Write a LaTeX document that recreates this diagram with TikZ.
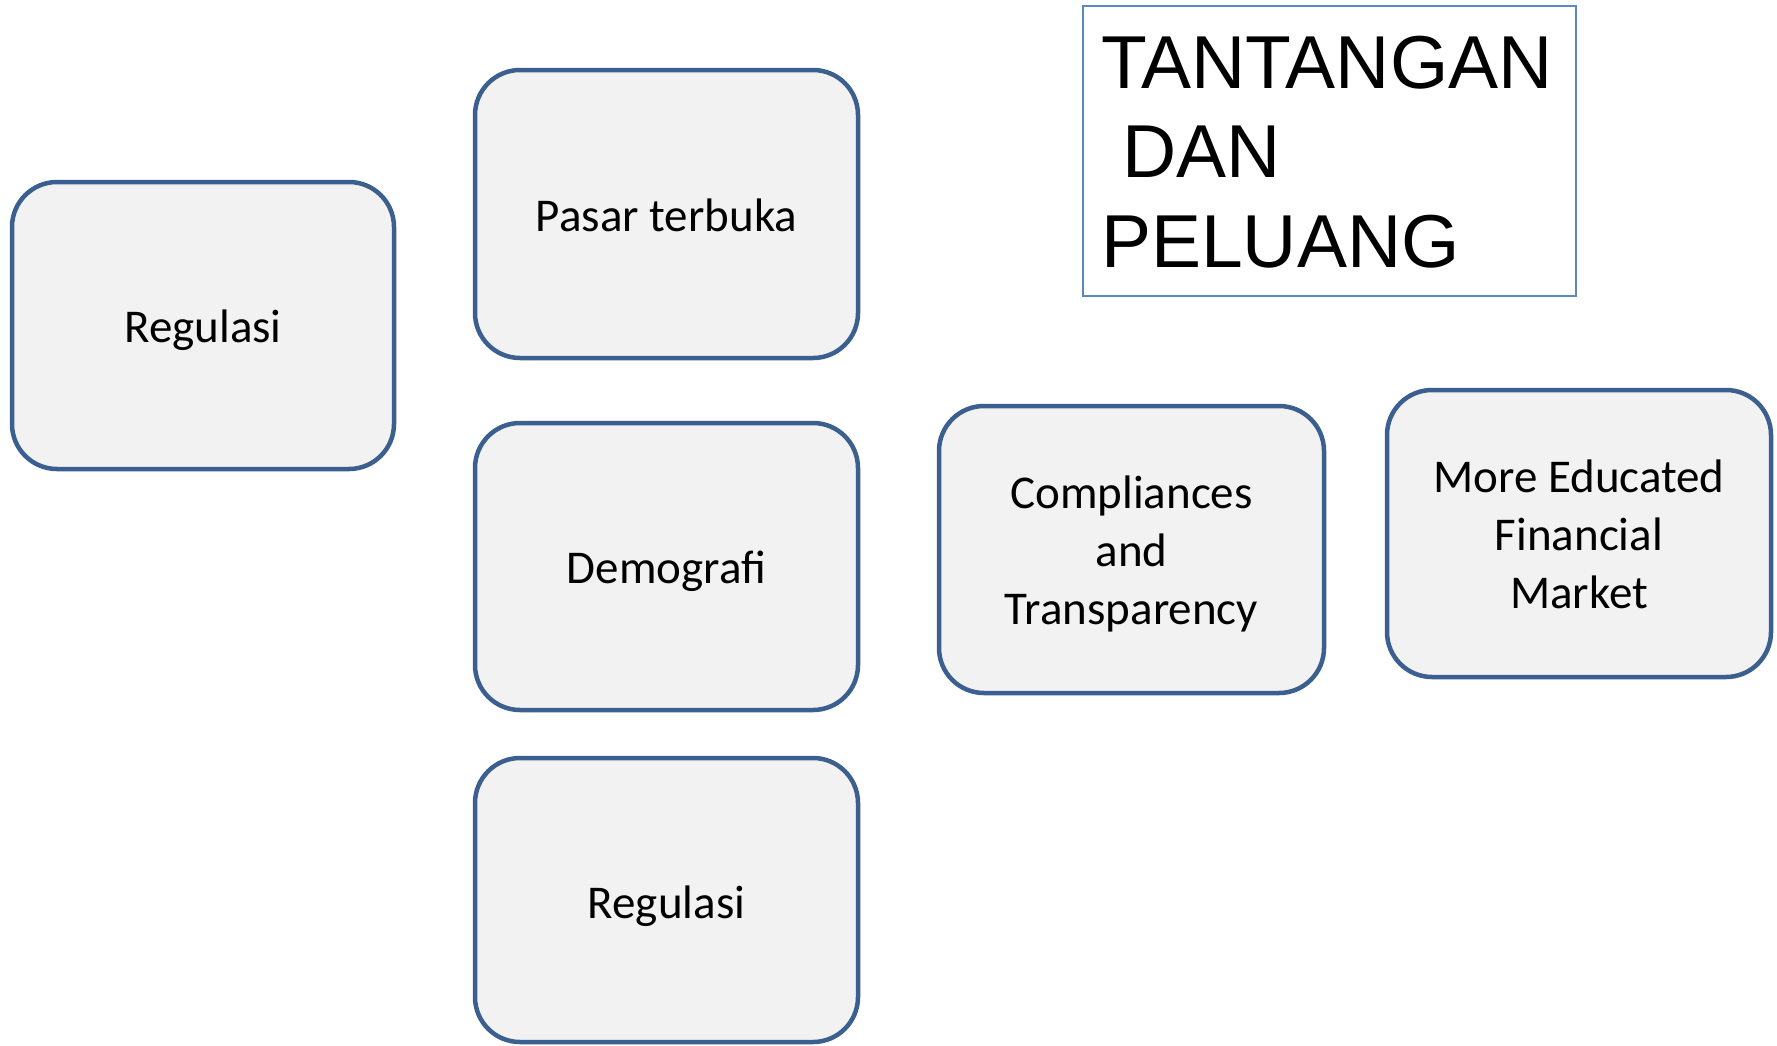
\documentclass[tikz,border=0pt]{standalone}
\usepackage{fontspec}
\setmainfont{Carlito}
\newfontfamily\titlefont{Liberation Sans}
\definecolor{boxblue}{HTML}{3B5F8E}
\definecolor{boxfill}{HTML}{F2F2F2}
\definecolor{titleblue}{HTML}{5B87C2}
\begin{document}
\begin{tikzpicture}[x=1pt,y=-1pt,
  box/.style={draw=boxblue, fill=boxfill, line width=4.5pt, rounded corners=45pt, inner sep=0pt},
  txt/.style={inner sep=0pt, align=center, font=\fontsize{47}{58}\selectfont},
  ttl/.style={anchor=base west, inner sep=0pt, font=\titlefont\fontsize{75}{90}\selectfont}]
\useasboundingbox (0,0) rectangle (1777,1045);
\fill[white] (0,0) rectangle (1777,1045);
\node[box, minimum width=382pt, minimum height=287pt] (reg1) at (203,325.5) {};
\node[box, minimum width=383pt, minimum height=288pt] (pasar) at (666.5,214) {};
\node[box, minimum width=383pt, minimum height=287pt] (demo) at (666.5,566.5) {};
\node[box, minimum width=383pt, minimum height=284pt] (reg2) at (666.5,900) {};
\node[box, minimum width=385pt, minimum height=287pt] (comp) at (1131.5,549.5) {};
\node[box, minimum width=384pt, minimum height=287pt] (more) at (1579,533.5) {};
\node[txt] (reg1t) at ([yshift=-4.5pt]reg1.center) {Regulasi};
\node[txt] (pasart) at ([yshift=-1pt]pasar.center) {Pasar terbuka};
\node[txt] (demot) at ([yshift=-4.5pt]demo.center) {Demografi};
\node[txt] (reg2t) at ([yshift=-6pt]reg2.center) {Regulasi};
\node[txt] (compt) at ([yshift=-4.5pt]comp.center) {Compliances\\and\\Transparency};
\node[txt] (moret) at ([yshift=-0.5pt]more.center) {More Educated\\Financial\\Market};
\node[draw=titleblue, line width=1.6pt, minimum width=493pt, minimum height=290pt, inner sep=0pt] (tbox) at (1329.5,151) {};
\node[ttl] (t1) at (1101,88) {TANTANGAN};
\node[ttl] (t2) at (1101,177) {\ DAN};
\node[ttl] (t3) at (1101,267) {PELUANG};
\end{tikzpicture}
\end{document}
